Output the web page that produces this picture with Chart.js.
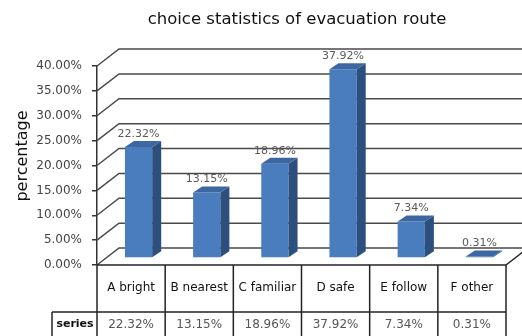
<!DOCTYPE html>
<html>
<head>
<meta charset="utf-8">
<script src="https://cdn.jsdelivr.net/npm/chart.js@4/dist/chart.umd.min.js"></script>
<style>
  html, body { margin: 0; padding: 0; background: #fff; }
  #wrap { width: 522px; height: 336px; }
</style>
</head>
<body>
<div id="wrap"><canvas id="chart" width="522" height="336"></canvas></div>
<script>
// data
const categories = ['A bright', 'B nearest', 'C familiar', 'D safe', 'E follow', 'F other'];
const values = [22.32, 13.15, 18.96, 37.92, 7.34, 0.31];
const seriesName = 'series';
const yTicks = [0, 5, 10, 15, 20, 25, 30, 35, 40];
const chartTitle = 'choice statistics of evacuation route';
const yTitle = 'percentage';

// fake 3d geometry
const DEPTH_X = 22, DEPTH_Y = -17;   // depth of walls / floor
const SHIFT_X = 7.5, SHIFT_Y = -7;   // bars stand half way into the floor
const FACE_X = 9, FACE_Y = -6;       // bar thickness
const FONT = '"DejaVu Sans", sans-serif';

const pct = v => v.toFixed(2) + '%';

const line = (ctx, x1, y1, x2, y2) => {
  ctx.beginPath();
  ctx.moveTo(x1, y1);
  ctx.lineTo(x2, y2);
  ctx.stroke();
};

const box3d = {
  id: 'box3d',
  beforeDatasetsDraw(chart) {
    const { ctx, chartArea: a, scales: { y } } = chart;
    ctx.save();
    ctx.strokeStyle = '#4a4a4a';
    ctx.lineWidth = 1.5;
    // left wall + back wall grid
    yTicks.forEach(v => {
      const py = y.getPixelForValue(v);
      ctx.beginPath();
      ctx.moveTo(a.left, py);
      ctx.lineTo(a.left + DEPTH_X, py + DEPTH_Y);
      ctx.lineTo(chart.width, py + DEPTH_Y);
      ctx.stroke();
    });
    ctx.restore();

    // bars drawn a bit deeper than the front plane
    ctx.save();
    ctx.translate(SHIFT_X, SHIFT_Y);
  },
  afterDatasetsDraw(chart) {
    const { ctx } = chart;
    chart.getDatasetMeta(0).data.forEach(bar => {
      const l = bar.x - bar.width / 2, r = bar.x + bar.width / 2;
      const t = bar.y, b = bar.base;
      // side face
      ctx.fillStyle = '#2d4f7d';
      ctx.beginPath();
      ctx.moveTo(r, t);
      ctx.lineTo(r + FACE_X, t + FACE_Y);
      ctx.lineTo(r + FACE_X, b + FACE_Y);
      ctx.lineTo(r, b);
      ctx.closePath();
      ctx.fill();
      // top face
      ctx.fillStyle = '#3c67a3';
      ctx.beginPath();
      ctx.moveTo(l, t);
      ctx.lineTo(l + FACE_X, t + FACE_Y);
      ctx.lineTo(r + FACE_X, t + FACE_Y);
      ctx.lineTo(r, t);
      ctx.closePath();
      ctx.fill();
    });
    // value labels
    ctx.fillStyle = '#5a5a5a';
    ctx.font = '11px ' + FONT;
    ctx.textAlign = 'center';
    ctx.textBaseline = 'middle';
    chart.getDatasetMeta(0).data.forEach((bar, i) => {
      ctx.fillText(pct(values[i]), bar.x, bar.y - 13);
    });
    ctx.restore();
  },
  afterDraw(chart) {
    const { ctx, chartArea: a, scales: { x, y } } = chart;
    const y0 = y.getPixelForValue(0);
    const colW = (a.right - a.left) / categories.length;
    const rowMid = y0 + 47;
    const bottom = chart.height;
    ctx.save();

    // floor front + right edge, table grid
    ctx.strokeStyle = '#222';
    ctx.lineWidth = 1.5;
    line(ctx, a.left, y0, a.right, y0);
    line(ctx, a.right, y0, a.right + DEPTH_X, y0 + DEPTH_Y);
    for (let i = 0; i <= categories.length; i++) {
      const xx = a.left + i * colW;
      line(ctx, xx, y0, xx, bottom);
    }
    line(ctx, 52, rowMid, a.right, rowMid);
    line(ctx, 52, rowMid, 52, bottom);

    // table text
    ctx.textAlign = 'center';
    ctx.textBaseline = 'middle';
    ctx.fillStyle = '#111';
    ctx.font = '12px ' + FONT;
    categories.forEach((c, i) => ctx.fillText(c, x.getPixelForValue(i), y0 + 23));
    ctx.fillStyle = '#555';
    values.forEach((v, i) => ctx.fillText(pct(v), x.getPixelForValue(i), rowMid + 13));
    ctx.fillStyle = '#111';
    ctx.font = 'bold 11px ' + FONT;
    ctx.fillText(seriesName, 75, rowMid + 12);

    // title
    ctx.font = '16.5px ' + FONT;
    ctx.textBaseline = 'alphabetic';
    ctx.fillText(chartTitle, 297, 24);

    // y axis title
    ctx.save();
    ctx.translate(23, 156);
    ctx.rotate(-Math.PI / 2);
    ctx.textBaseline = 'middle';
    ctx.font = '16px ' + FONT;
    ctx.fillStyle = '#111';
    ctx.fillText(yTitle, 0, 0);
    ctx.restore();

    ctx.restore();
  }
};

new Chart(document.getElementById('chart'), {
  type: 'bar',
  data: {
    labels: categories,
    datasets: [{
      label: seriesName,
      data: values,
      backgroundColor: '#4a7dbd',
      barPercentage: 0.4,
      categoryPercentage: 1
    }]
  },
  options: {
    responsive: false,
    animation: false,
    devicePixelRatio: 1,
    layout: { padding: { top: 66, right: 16, bottom: 71, left: 0 } },
    plugins: {
      legend: { display: false },
      title: { display: false },
      tooltip: { enabled: false }
    },
    scales: {
      x: { display: false },
      y: {
        min: 0,
        max: 40,
        afterBuildTicks: s => { s.ticks = yTicks.map(v => ({ value: v })); },
        afterFit: s => { s.width = 97; },
        ticks: {
          padding: 10,
          color: '#444',
          font: { family: FONT, size: 12 },
          callback: v => pct(v)
        },
        grid: { drawOnChartArea: false, drawTicks: true, tickLength: 5, color: '#333', lineWidth: 1.5 },
        border: { display: true, color: '#333', width: 1.5 }
      }
    }
  },
  plugins: [box3d]
});
</script>
</body>
</html>
